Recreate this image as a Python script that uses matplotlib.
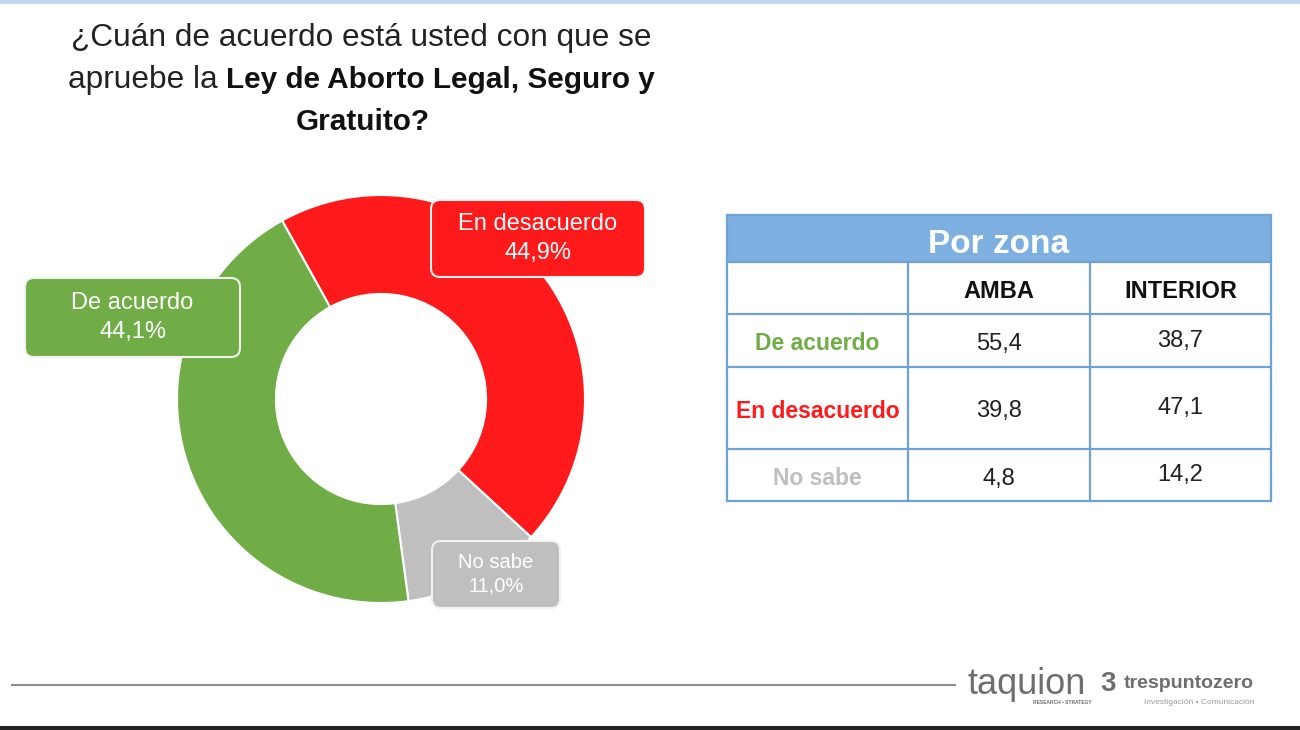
import matplotlib.pyplot as plt
from matplotlib.patches import FancyBboxPatch, Rectangle

plt.rcParams['font.family'] = ['Liberation Sans', 'DejaVu Sans']

# ---- data ----
categories = ["De acuerdo", "En desacuerdo", "No sabe"]
totals = [44.1, 44.9, 11.0]
colors = ["#70AD47", "#FE1A1A", "#BFBFBF"]

zones = ["AMBA", "INTERIOR"]
amba = [55.4, 39.8, 4.8]
interior = [38.7, 47.1, 14.2]

title_1 = "¿Cuán de acuerdo está usted con que se"
title_2a = "apruebe la "
title_2b = "Ley de Aborto Legal, Seguro y"
title_3 = "Gratuito?"


def fmt(v, pct=False):
    s = f"{v:.1f}".replace(".", ",")
    return s + "%" if pct else s


W, H = 1300, 730
fig = plt.figure(figsize=(W / 100, H / 100), dpi=100)
fig.patch.set_facecolor("white")

# ---- donut (own axes, pixel box 177..585 x 195..603) ----
cx, cy, r = 381, 399, 204
pax = fig.add_axes([(cx - r) / W, (H - cy - r) / H, 2 * r / W, 2 * r / H])
# drawing order: red, gray, green clockwise from the top-left
order = [1, 2, 0]
pax.pie([totals[i] for i in order], colors=[colors[i] for i in order],
        startangle=119, counterclock=False, radius=1,
        wedgeprops=dict(width=0.485, edgecolor="white", linewidth=1.5))
pax.set_xlim(-1, 1)
pax.set_ylim(-1, 1)
pax.axis("off")

# ---- overlay in pixel coordinates ----
ax = fig.add_axes([0, 0, 1, 1])
ax.set_xlim(0, W)
ax.set_ylim(H, 0)
ax.axis("off")

# top / bottom strips
ax.plot([0, W], [1.5, 1.5], color="#BFD9EE", lw=3, solid_capstyle="butt")
ax.add_patch(Rectangle((0, 726), W, 4, color="#222222", lw=0))
ax.plot([12, 955], [685, 685], color="#8C8C8C", lw=1.5)

# title
ax.text(361, 38, title_1, ha="center", va="center", fontsize=22.8, color="#222222")
t2 = ax.text(68, 80, title_2a, ha="left", va="center", fontsize=22.8, color="#222222")
ax.annotate(title_2b, xy=(1, 0.5), xycoords=t2, ha="left", va="center",
            fontsize=21.4, fontweight="bold", color="#111111")
ax.text(363, 122, title_3, ha="center", va="center", fontsize=21.4,
        fontweight="bold", color="#111111")

# donut labels (box: x0, y0, x1, y1)
label_boxes = {1: (431, 200, 645, 277), 0: (25, 278, 240, 357), 2: (432, 541, 560, 608)}
for i, (x0, y0, x1, y1) in label_boxes.items():
    ax.add_patch(FancyBboxPatch((x0, y0), x1 - x0, y1 - y0,
                                boxstyle="round,pad=0,rounding_size=9",
                                fc=colors[i], ec="#F2F2F2", lw=1.5, zorder=3))
    fs = 17 if i != 2 else 14.5
    ax.text((x0 + x1) / 2, (y0 + y1) / 2, categories[i] + "\n" + fmt(totals[i], True),
            ha="center", va="center", fontsize=fs, color="white",
            linespacing=1.4 if i != 2 else 1.3, zorder=4)

# ---- table ----
xs = [727, 908, 1090, 1271]
ys = [215, 262, 314, 367, 449, 501]
line_c = "#6FA3D8"
ax.add_patch(Rectangle((xs[0], ys[0]), xs[-1] - xs[0], ys[1] - ys[0],
                       fc="#7DB0E0", ec="none", zorder=1))
ax.text((xs[0] + xs[-1]) / 2, (ys[0] + ys[1]) / 2 + 6, "Por zona", ha="center",
        va="center", fontsize=24, fontweight="bold", color="white", zorder=2)
for y in ys:
    ax.plot([xs[0], xs[-1]], [y, y], color=line_c, lw=1.6, zorder=2)
for x in xs:
    y_top = ys[0] if x in (xs[0], xs[-1]) else ys[1]
    ax.plot([x, x], [y_top, ys[-1]], color=line_c, lw=1.6, zorder=2)

for j, z in enumerate(zones):
    ax.text((xs[j + 1] + xs[j + 2]) / 2, (ys[1] + ys[2]) / 2 + 3, z, ha="center",
            va="center", fontsize=17, fontweight="bold", color="#111111")
for i, cat in enumerate(categories):
    yc = (ys[i + 2] + ys[i + 3]) / 2 + 3.5
    ax.text((xs[0] + xs[1]) / 2, yc, cat, ha="center", va="center", fontsize=16.5,
            fontweight="bold", color=colors[i])
    ax.text((xs[1] + xs[2]) / 2, yc, fmt(amba[i]), ha="center", va="center",
            fontsize=17, color="#222222")
    ax.text((xs[2] + xs[3]) / 2, yc - 3.5, fmt(interior[i]), ha="center", va="center",
            fontsize=17, color="#222222")

# ---- logos (as text) ----
ax.text(968, 684, "taquion", ha="left", va="center", fontsize=26, color="#6E6E6E")
ax.text(1062, 703, "RESEARCH \u25aa STRATEGY", ha="center", va="center",
        fontsize=3.5, color="#6E6E6E", fontweight="bold")
ax.text(1100, 684, "3", ha="left", va="center", fontsize=20, color="#6E6E6E",
        fontweight="bold")
ax.text(1124, 684, "trespuntozero", ha="left", va="center", fontsize=14,
        color="#6E6E6E", fontweight="bold")
ax.text(1199, 703, "Investigación \u2022 Comunicación", ha="center", va="center",
        fontsize=6, color="#9A9A9A")

fig.savefig("out.png", dpi=100, facecolor="white")
